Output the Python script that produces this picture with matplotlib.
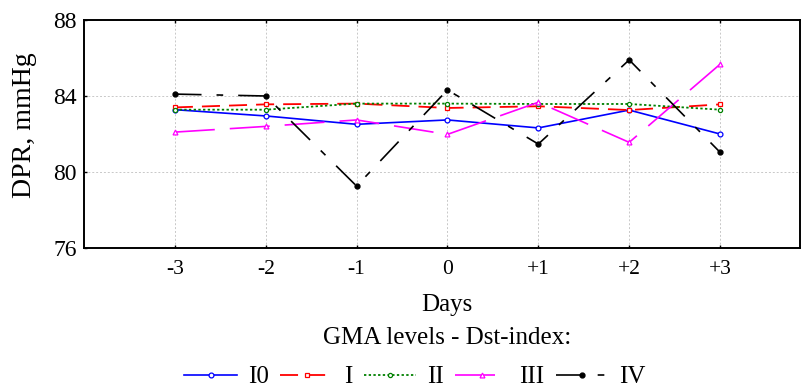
import matplotlib
matplotlib.use('Agg')
import matplotlib.pyplot as plt

plt.rcParams['font.family'] = ['Liberation Serif', 'DejaVu Serif']

# Days relative to the geomagnetic event
days = [-3, -2, -1, 0, 1, 2, 3]
day_labels = ['-3', '-2', '-1', '0', '+1', '+2', '+3']

# Mean DPR (mmHg) per GMA level
dpr_i0 = [83.28, 82.95, 82.51, 82.74, 82.32, 83.26, 82.00]
dpr_i = [83.40, 83.56, 83.60, 83.37, 83.46, 83.26, 83.56]
dpr_ii = [83.28, 83.28, 83.60, 83.60, 83.58, 83.58, 83.28]
dpr_iii = [82.10, 82.40, 82.74, 81.98, 83.67, 81.56, 85.67]
dpr_iv = [84.10, 84.00, 79.26, 84.32, 81.47, 85.90, 81.04]

fig = plt.figure(figsize=(8.01, 3.89), dpi=100)
ax = fig.add_axes([84 / 801, 1 - 248 / 389, 716 / 801, 228 / 389])

ax.plot(days, dpr_i0, color='blue', lw=1.2, marker='o', ms=3.5,
        mfc='white', mec='blue', mew=0.9, label='I0')
ax.plot(days, dpr_i, color='red', lw=1.3, ls=(0, (10, 5)), marker='s', ms=3.5,
        mfc='white', mec='red', mew=0.9, label='I')
ax.plot(days, dpr_ii, color='green', lw=1.3, ls=(0, (1.3, 1.3)), marker='o', ms=3,
        mfc='white', mec='green', mew=0.9, label='II')
ax.plot(days, dpr_iii, color='magenta', lw=1.2, ls=(0, (24, 9)), marker='^', ms=3.5,
        mfc='white', mec='magenta', mew=0.9, label='III')
ax.plot(days, dpr_iv, color='black', lw=1.2, ls=(0, (16, 9, 4, 9)), marker='o', ms=3.5,
        mfc='black', mec='black', label='IV')

ax.set_xlim(-4, 3.88)
ax.set_ylim(76, 88)
ax.set_yticks([76, 80, 84, 88])
ax.set_xticks(days)
ax.set_xticklabels(day_labels)
ax.tick_params(length=2.5, direction='in', top=True, width=1)
ax.tick_params(axis='x', labelsize=15.5, pad=9)
ax.tick_params(axis='y', labelsize=17, pad=5)
ax.grid(True, color='#c8c8c8', ls=(0, (2, 2)), lw=0.7)
for s in ax.spines.values():
    s.set_linewidth(1.4)

fig.text(25 / 801, 1 - 125 / 389, 'DPR, mmHg', rotation=90, ha='center', va='center',
         fontsize=20)
fig.text(447 / 801, 1 - 305 / 389, 'Days', ha='center', va='center', fontsize=18)
fig.text(447 / 801, 1 - 338 / 389, 'GMA levels - Dst-index:', ha='center', va='center',
         fontsize=18)

fig.legend(loc='center', bbox_to_anchor=(415 / 801, 1 - 377 / 389), ncol=5,
           frameon=False, fontsize=18, handlelength=2.1, handletextpad=0.45,
           columnspacing=0.45)

fig.savefig('out.png', dpi=100)
